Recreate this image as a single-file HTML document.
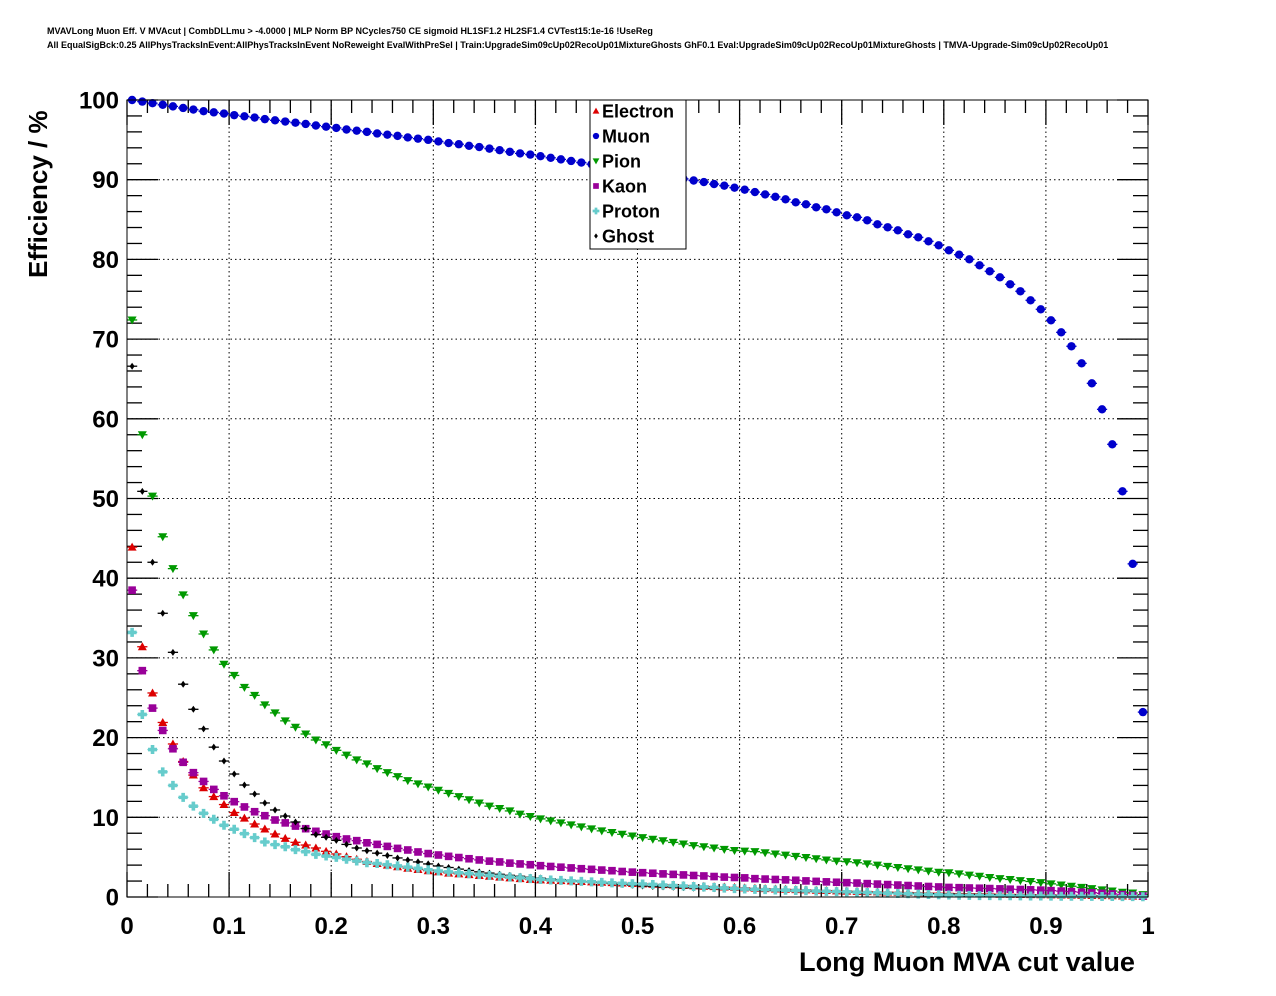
<!DOCTYPE html>
<html><head><meta charset="utf-8"><style>
html,body{margin:0;padding:0;background:#fff;}
svg{display:block;font-family:"Liberation Sans",Arial,sans-serif;}
</style></head><body>
<svg id="chart" width="1276" height="996" viewBox="0 0 1276 996" xmlns="http://www.w3.org/2000/svg">
<rect x="0" y="0" width="1276" height="996" fill="#fff"/>
<text x="47" y="34" font-size="9" font-weight="bold">MVAVLong Muon Eff. V MVAcut | CombDLLmu &gt; -4.0000 | MLP Norm BP NCycles750 CE sigmoid HL1SF1.2 HL2SF1.4 CVTest15:1e-16 !UseReg</text>
<text x="47" y="48" font-size="9" font-weight="bold">All EqualSigBck:0.25 AllPhysTracksInEvent:AllPhysTracksInEvent NoReweight EvalWithPreSel | Train:UpgradeSim09cUp02RecoUp01MixtureGhosts GhF0.1 Eval:UpgradeSim09cUp02RecoUp01MixtureGhosts | TMVA-Upgrade-Sim09cUp02RecoUp01</text>
<g id="grid"></g>
<g id="axes"></g>
<g id="series"></g>
<rect x="127" y="100" width="1021" height="797" fill="none" stroke="#000" stroke-width="1"/>
<text x="1135" y="971" font-size="27" font-weight="bold" text-anchor="end" textLength="336" lengthAdjust="spacingAndGlyphs">Long Muon MVA cut value</text>
<text transform="translate(47,278) rotate(-90)" font-size="26" font-weight="bold">Efficiency / %</text>
<g id="legend"></g>
</svg>
<script>
const xTicks = [0,0.1,0.2,0.3,0.4,0.5,0.6,0.7,0.8,0.9,1];
const xTickLabels = ["0","0.1","0.2","0.3","0.4","0.5","0.6","0.7","0.8","0.9","1"];
const yTicks = [0,10,20,30,40,50,60,70,80,90,100];
const yTickLabels = ["0","10","20","30","40","50","60","70","80","90","100"];
const nBins = 100;
const seriesNames = ["Electron","Muon","Pion","Kaon","Proton","Ghost"];
const electron = [43.9,31.4,25.6,21.9,19.2,17.0,15.3,13.7,12.6,11.6,10.6,9.9,9.16,8.53,7.9,7.36,6.86,6.52,6.15,5.73,5.4,5.06,4.73,4.45,4.2,4.0,3.8,3.6,3.45,3.3,3.15,3.0,2.9,2.8,2.7,2.6,2.5,2.4,2.3,2.2,2.15,2.1,2.05,2.0,1.95,1.9,1.85,1.8,1.75,1.7,1.65,1.6,1.55,1.5,1.45,1.4,1.35,1.3,1.25,1.2,1.15,1.1,1.05,1.0,0.97,0.93,0.89,0.85,0.81,0.77,0.74,0.71,0.68,0.65,0.62,0.59,0.56,0.53,0.5,0.47,0.45,0.43,0.41,0.39,0.37,0.35,0.33,0.31,0.3,0.28,0.27,0.25,0.23,0.21,0.19,0.17,0.15,0.13,0.11,0.1];
const muon = [100,99.8,99.6,99.4,99.2,99.0,98.8,98.6,98.45,98.3,98.1,97.95,97.8,97.6,97.45,97.3,97.15,97.0,96.8,96.65,96.5,96.3,96.15,96.0,95.8,95.65,95.5,95.3,95.15,95.0,94.8,94.6,94.45,94.25,94.1,93.9,93.7,93.5,93.3,93.15,92.95,92.75,92.55,92.35,92.15,91.95,91.75,91.55,91.35,91.15,90.95,90.7,90.5,90.3,90.1,89.9,89.7,89.45,89.25,89.0,88.75,88.45,88.15,87.85,87.54,87.16,86.91,86.54,86.29,85.91,85.53,85.28,84.91,84.4,84.03,83.65,83.15,82.77,82.27,81.77,81.14,80.59,80.01,79.26,78.51,77.75,76.88,76.0,74.87,73.74,72.36,70.85,69.1,66.96,64.45,61.19,56.8,50.9,41.8,23.2];
const pion = [72.4,58.0,50.3,45.2,41.2,37.9,35.3,33.0,31.0,29.2,27.8,26.3,25.3,24.1,23.1,22.1,21.3,20.45,19.7,19.1,18.4,17.8,17.2,16.7,16.1,15.6,15.1,14.6,14.2,13.8,13.4,13.0,12.6,12.2,11.8,11.4,11.1,10.8,10.4,10.1,9.8,9.55,9.3,9.05,8.8,8.55,8.3,8.1,7.87,7.65,7.45,7.25,7.05,6.85,6.65,6.45,6.3,6.15,5.98,5.83,5.75,5.69,5.55,5.4,5.25,5.1,4.95,4.8,4.65,4.5,4.43,4.3,4.15,4.0,3.85,3.7,3.55,3.4,3.25,3.1,3.05,2.9,2.75,2.6,2.45,2.3,2.2,2.05,1.95,1.8,1.65,1.5,1.35,1.2,1.05,0.9,0.75,0.6,0.5,0.3];
const kaon = [38.5,28.4,23.7,20.9,18.6,16.9,15.6,14.5,13.5,12.7,11.96,11.3,10.7,10.2,9.66,9.3,8.9,8.57,8.24,7.9,7.57,7.28,7.07,6.8,6.6,6.35,6.1,5.9,5.65,5.45,5.27,5.1,4.95,4.8,4.65,4.5,4.4,4.25,4.15,4.05,3.93,3.83,3.74,3.65,3.55,3.47,3.38,3.3,3.2,3.12,3.05,2.98,2.9,2.84,2.77,2.7,2.64,2.57,2.5,2.45,2.4,2.3,2.25,2.2,2.15,2.1,2.02,1.96,1.9,1.85,1.8,1.75,1.68,1.62,1.56,1.5,1.44,1.38,1.32,1.26,1.2,1.17,1.13,1.1,1.06,1.02,0.98,0.94,0.9,0.86,0.8,0.74,0.68,0.6,0.54,0.46,0.38,0.3,0.22,0.12];
const proton = [33.2,22.9,18.5,15.7,14.0,12.5,11.4,10.5,9.75,9.0,8.5,7.95,7.45,6.9,6.57,6.3,5.94,5.69,5.35,5.14,4.97,4.73,4.52,4.3,4.2,4.05,3.9,3.75,3.6,3.42,3.26,3.15,3.03,2.92,2.8,2.7,2.6,2.5,2.4,2.3,2.2,2.14,2.08,2.02,1.96,1.9,1.84,1.78,1.72,1.67,1.63,1.57,1.5,1.44,1.38,1.32,1.26,1.2,1.12,1.05,1.0,0.96,0.92,0.88,0.85,0.81,0.78,0.74,0.71,0.68,0.65,0.6,0.56,0.52,0.48,0.44,0.4,0.36,0.32,0.28,0.25,0.22,0.2,0.18,0.17,0.16,0.15,0.14,0.13,0.12,0.11,0.1,0.1,0.09,0.08,0.07,0.06,0.05,0.04,0.03];
const ghost = [66.6,50.9,42.0,35.6,30.7,26.7,23.55,21.1,18.8,17.06,15.43,14.05,12.92,11.8,10.92,10.16,9.41,8.6,7.82,7.49,7.11,6.6,6.15,5.8,5.5,5.2,4.9,4.65,4.4,4.15,3.89,3.7,3.5,3.33,3.16,3.0,2.85,2.72,2.6,2.48,2.38,2.27,2.17,2.07,1.97,1.87,1.77,1.67,1.57,1.47,1.38,1.32,1.27,1.22,1.17,1.12,1.08,1.04,1.0,0.96,0.92,0.88,0.85,0.81,0.78,0.75,0.72,0.69,0.66,0.63,0.6,0.58,0.56,0.54,0.52,0.5,0.47,0.45,0.43,0.41,0.39,0.37,0.35,0.33,0.31,0.29,0.27,0.25,0.23,0.21,0.2,0.18,0.16,0.14,0.12,0.1,0.08,0.07,0.06,0.05];

const NS = "http://www.w3.org/2000/svg";
const X0 = 127, X1 = 1148, Y0 = 897, Y1 = 100;
function xs(v){ return X0 + v*(X1-X0); }
function ys(v){ return Y0 - v/100*(Y0-Y1); }
function mk(tag, attrs, parent){
  const e = document.createElementNS(NS, tag);
  for (const k in attrs) e.setAttribute(k, attrs[k]);
  parent.appendChild(e); return e;
}
const grid = document.getElementById('grid');
const axes = document.getElementById('axes');
xTicks.forEach((t,i)=>{ if(i>0 && i<xTicks.length-1){
  const l = mk('line',{x1:xs(t),x2:xs(t),y1:Y1,y2:Y0,stroke:'#000','stroke-width':1,'stroke-dasharray':'1.5,3'},grid);
  
  
}});
yTicks.forEach((t,i)=>{ if(i>0 && i<yTicks.length-1){
  const l = mk('line',{x1:X0,x2:X1,y1:ys(t),y2:ys(t),stroke:'#000','stroke-width':1,'stroke-dasharray':'1.5,3'},grid);
  
  
}});
for (let i=0;i<=50;i++){
  const v=i/50, major=(i%5===0), len=major?25:13;
  const a = mk('line',{x1:xs(v),x2:xs(v),y1:Y0,y2:Y0-len,stroke:'#000','stroke-width':1.3},axes);
  
  
  const b = mk('line',{x1:xs(v),x2:xs(v),y1:Y1,y2:Y1+len,stroke:'#000','stroke-width':1.3},axes);
  
  
}
for (let i=0;i<=50;i++){
  const v=i*2, major=(i%5===0), len=major?31:15;
  const a = mk('line',{x1:X0,x2:X0+len,y1:ys(v),y2:ys(v),stroke:'#000','stroke-width':1.3},axes);
  
  
  const b = mk('line',{x1:X1,x2:X1-len,y1:ys(v),y2:ys(v),stroke:'#000','stroke-width':1.3},axes);
  
  
}
xTicks.forEach((t,i)=>{
  const tx = mk('text',{x:xs(t),y:934,'font-size':24,'font-weight':'bold','text-anchor':'middle'},axes);
  tx.textContent = xTickLabels[i];
  
  
});
yTicks.forEach((t,i)=>{
  const tx = mk('text',{x:119,y:ys(t)+8.5,'font-size':24,'font-weight':'bold','text-anchor':'end'},axes);
  tx.textContent = yTickLabels[i];
  
  
});
const colors = {Electron:'#dd0000',Muon:'#0000cc',Pion:'#009900',Kaon:'#990099',Proton:'#66cccc',Ghost:'#000000'};
function marker(name, cx, cy, parent, s){
  s = s||1;
  const c = colors[name]; let e;
  if (name==='Electron') e = mk('polygon',{points:`${cx},${cy-4.5*s} ${cx-4.5*s},${cy+3.5*s} ${cx+4.5*s},${cy+3.5*s}`,fill:c},parent);
  else if (name==='Muon') e = mk('circle',{cx:cx,cy:cy,r:4.2*s,fill:c},parent);
  else if (name==='Pion') e = mk('polygon',{points:`${cx},${cy+4.5*s} ${cx-4.5*s},${cy-3.5*s} ${cx+4.5*s},${cy-3.5*s}`,fill:c},parent);
  else if (name==='Kaon') e = mk('rect',{x:cx-3.8*s,y:cy-3.8*s,width:7.6*s,height:7.6*s,fill:c},parent);
  else if (name==='Proton') e = mk('path',{d:`M${cx-1.8*s},${cy-4.5*s}h${3.6*s}v${2.7*s}h${2.7*s}v${3.6*s}h${-2.7*s}v${2.7*s}h${-3.6*s}v${-2.7*s}h${-2.7*s}v${-3.6*s}h${2.7*s}z`,fill:c},parent);
  else e = mk('polygon',{points:`${cx},${cy-3.5*s} ${cx+2.5*s},${cy} ${cx},${cy+3.5*s} ${cx-2.5*s},${cy}`,fill:c},parent);
  return e;
}
const seriesData = {Electron:electron,Muon:muon,Pion:pion,Kaon:kaon,Proton:proton,Ghost:ghost};
const sg = document.getElementById('series');
['Electron','Muon','Pion','Kaon','Ghost','Proton'].forEach(name=>{
  const g = mk('g',{},sg);
  
  
  const arr = seriesData[name];
  arr.forEach((v,i)=>{
    const xc = xs((i+0.5)/nBins), xl = xs(i/nBins), xr = xs((i+1)/nBins), yc = ys(v);
    const eb = mk('line',{x1:xl,x2:xr,y1:yc,y2:yc,stroke:colors[name],'stroke-width':1.3},g);
    
    
    const m = marker(name, xc, yc, g);
    
    
  });
});
const lg = document.getElementById('legend');
const box = mk('rect',{x:590,y:100,width:96,height:149,fill:'#fff',stroke:'#000','stroke-width':1},lg);


seriesNames.forEach((name,i)=>{
  const yy = 111 + i*25;
  const g = mk('g',{},lg);
  
  
  marker(name, 596, yy, g, 0.75);
  const t = mk('text',{x:602,y:yy+6.5,'font-size':18,'font-weight':'bold'},g);
  t.textContent = name;
  
  
});
</script>
</body></html>
